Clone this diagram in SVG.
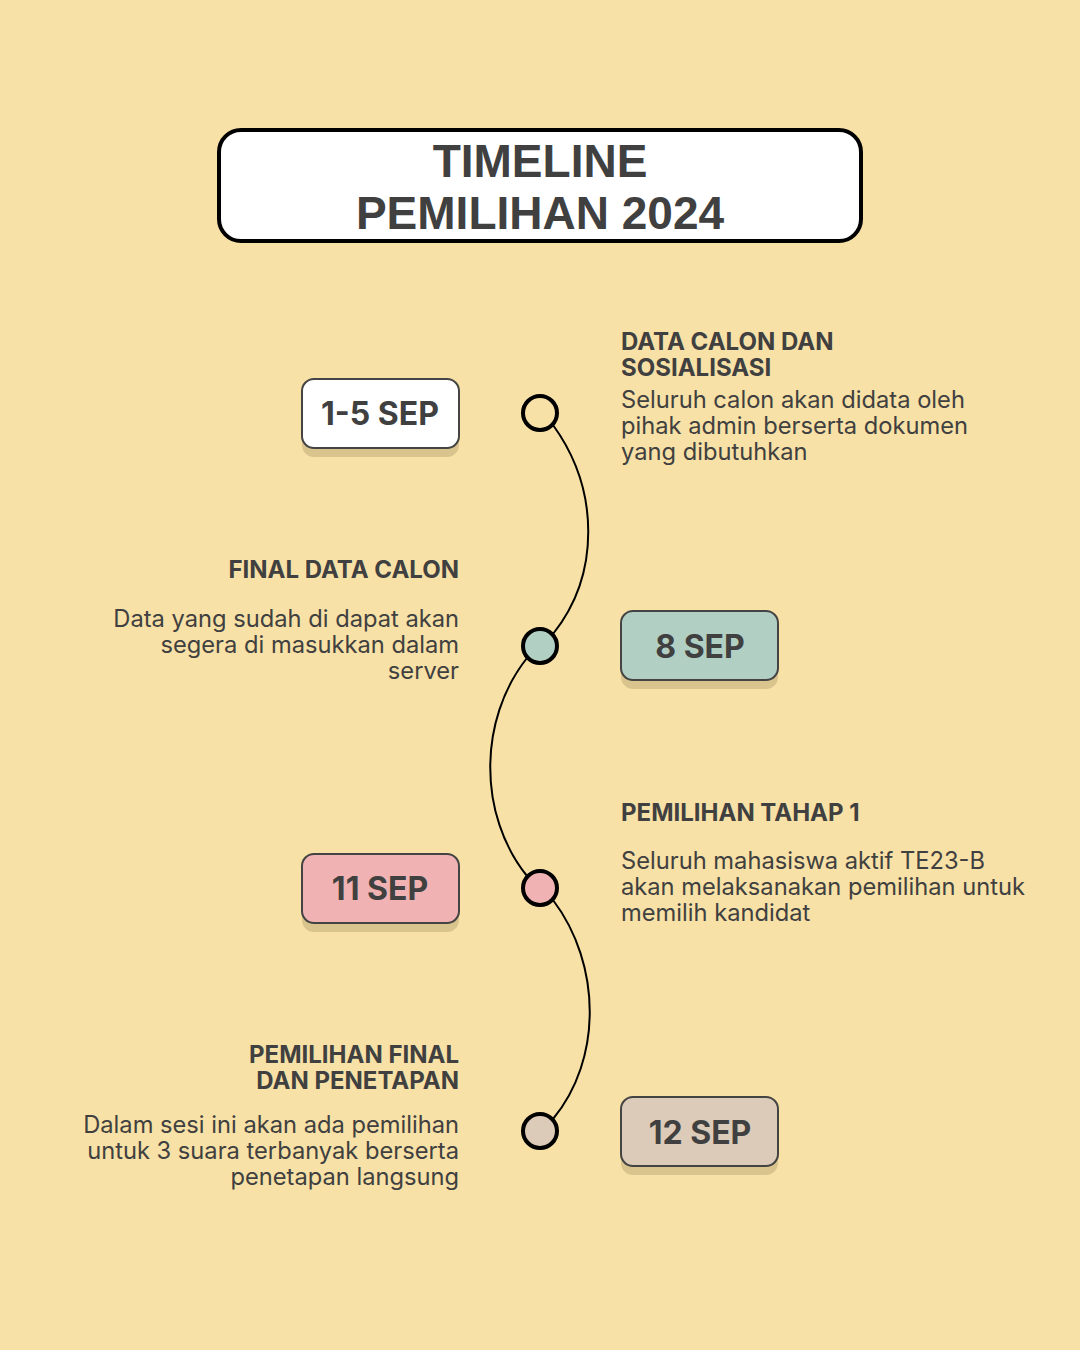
<svg xmlns="http://www.w3.org/2000/svg" width="1080" height="1350" viewBox="0 0 1080 1350">
<style>
.title{font-family:"Liberation Sans",Arial,sans-serif;font-weight:bold;font-size:46px;fill:#404040;text-anchor:middle}
.date{font-family:Inter,"Open Sans",sans-serif;font-weight:700;font-size:32px;fill:#404040;text-anchor:middle}
.head{font-family:Inter,"Open Sans",sans-serif;font-weight:700;font-size:24px;fill:#404040}
.body{font-family:Inter,"Open Sans",sans-serif;font-weight:400;font-size:23.7px;fill:#404040}
.r{text-anchor:end}
.box{stroke:#444;stroke-width:2}
.shadow{fill:#D9C48E}
.dot{stroke:#000;stroke-width:4}
.conn{fill:none;stroke:#000;stroke-width:2}
</style>
<rect width="1080" height="1350" fill="#F8E1A6"/>
<g id="title">
<rect x="219" y="130" width="642" height="111" rx="22" fill="#fff" stroke="#000" stroke-width="4"/>
<text class="title" x="540" y="177">TIMELINE</text>
<text class="title" x="540" y="229">PEMILIHAN 2024</text>
</g>
<g id="connectors">
<path class="conn" d="M553,425 C600,490 600,575 553,634"/>
<path class="conn" d="M527,658 C478,720 478,815 527,876"/>
<path class="conn" d="M553,900 C602,965 602,1060 553,1119"/>
</g>
<g id="step1">
<rect class="shadow" x="302" y="387" width="157" height="70" rx="12"/>
<rect class="box" x="302" y="379" width="157" height="69" rx="12" fill="#fff"/>
<text class="date" x="380" y="425">1-5 SEP</text>
<circle class="dot" cx="540" cy="413" r="17" fill="#F8E1A6"/>
<text class="head" x="621" y="350">DATA CALON DAN</text>
<text class="head" x="621" y="376">SOSIALISASI</text>
<text class="body" x="621" y="408">Seluruh calon akan didata oleh</text>
<text class="body" x="621" y="434">pihak admin berserta dokumen</text>
<text class="body" x="621" y="460">yang dibutuhkan</text>
</g>
<g id="step2">
<rect class="shadow" x="621" y="619" width="157" height="70" rx="12"/>
<rect class="box" x="621" y="611" width="157" height="69" rx="12" fill="#B2CFC4"/>
<text class="date" x="700" y="658">8 SEP</text>
<circle class="dot" cx="540" cy="646" r="17" fill="#B2CFC4"/>
<text class="head r" x="459" y="578">FINAL DATA CALON</text>
<text class="body r" x="459" y="627">Data yang sudah di dapat akan</text>
<text class="body r" x="459" y="653">segera di masukkan dalam</text>
<text class="body r" x="459" y="679">server</text>
</g>
<g id="step3">
<rect class="shadow" x="302" y="862" width="157" height="70" rx="12"/>
<rect class="box" x="302" y="854" width="157" height="69" rx="12" fill="#F0B2B2"/>
<text class="date" x="380" y="900">11 SEP</text>
<circle class="dot" cx="540" cy="888" r="17" fill="#F0B2B2"/>
<text class="head" x="621" y="821">PEMILIHAN TAHAP 1</text>
<text class="body" x="621" y="869">Seluruh mahasiswa aktif TE23-B</text>
<text class="body" x="621" y="895">akan melaksanakan pemilihan untuk</text>
<text class="body" x="621" y="921">memilih kandidat</text>
</g>
<g id="step4">
<rect class="shadow" x="621" y="1105" width="157" height="70" rx="12"/>
<rect class="box" x="621" y="1097" width="157" height="69" rx="12" fill="#DCCBB8"/>
<text class="date" x="700" y="1144">12 SEP</text>
<circle class="dot" cx="540" cy="1131" r="17" fill="#DCCBB8"/>
<text class="head r" x="459" y="1063">PEMILIHAN FINAL</text>
<text class="head r" x="459" y="1089">DAN PENETAPAN</text>
<text class="body r" x="459" y="1133">Dalam sesi ini akan ada pemilihan</text>
<text class="body r" x="459" y="1159">untuk 3 suara terbanyak berserta</text>
<text class="body r" x="459" y="1185">penetapan langsung</text>
</g>
</svg>
